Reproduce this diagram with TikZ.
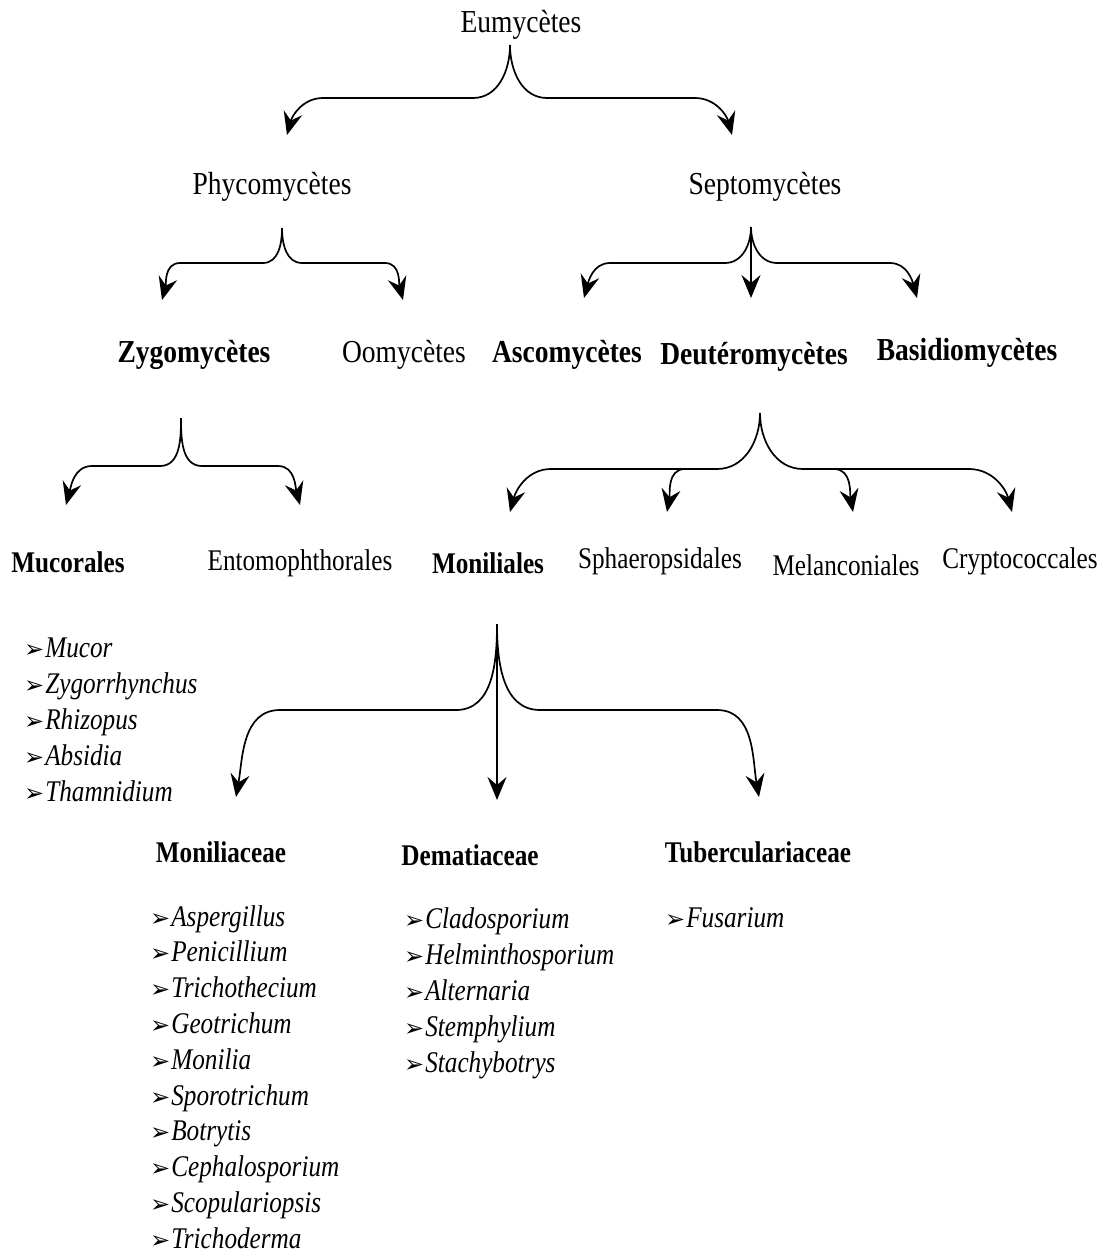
\documentclass[tikz,border=0pt]{standalone}
\usepackage{fontspec}
\setmainfont{Liberation Serif}
\newfontfamily\topfont[FakeStretch=0.86]{Liberation Serif}
\newfontfamily\lowfont[FakeStretch=0.84]{Liberation Serif}
\newfontfamily\symfont{DejaVu Sans}
\usetikzlibrary{arrows.meta}
\newcommand{\arrbul}{{\symfont\fontsize{24}{24}\selectfont ➢}\hspace{1pt}}

\begin{document}
\begin{tikzpicture}[x=1pt,y=-1pt,
  top/.style={inner sep=0pt,font=\topfont\fontsize{32}{36}\selectfont},
  low/.style={inner sep=0pt,font=\lowfont\fontsize{30}{34}\selectfont},
  genus/.style={inner sep=0pt,anchor=base west,font=\lowfont\fontsize{30}{34}\selectfont\itshape},
  brace/.style={line width=1.7pt,-{Stealth[length=23pt,width=19pt,inset=8pt]}}]
\useasboundingbox (0,0) rectangle (1106,1254);
% taxa
\node[top] (eumy) at (521,25) {Eumycètes};
\node[top] (phyco) at (272,187) {Phycomycètes};
\node[top] (septo) at (765,187) {Septomycètes};
\node[top,font=\topfont\fontsize{32}{36}\selectfont\bfseries] (zygo) at (194,355) {Zygomycètes};
\node[top] (oomy) at (404,355) {Oomycètes};
\node[top,font=\topfont\fontsize{32}{36}\selectfont\bfseries] (asco) at (567,355) {Ascomycètes};
\node[top,font=\topfont\fontsize{32}{36}\selectfont\bfseries] (deut) at (754,357) {Deutéromycètes};
\node[top,font=\topfont\fontsize{32}{36}\selectfont\bfseries] (basid) at (967,353) {Basidiomycètes};
\node[low,font=\lowfont\fontsize{30}{34}\selectfont\bfseries] (mucor) at (68,562) {Mucorales};
\node[low] (ento) at (300,563) {Entomophthorales};
\node[low,font=\lowfont\fontsize{30}{34}\selectfont\bfseries] (monil) at (488,563) {Moniliales};
\node[low] (sphae) at (660,561) {Sphaeropsidales};
\node[low] (melan) at (846,565) {Melanconiales};
\node[low] (crypto) at (1020,561) {Cryptococcales};
\node[low,font=\lowfont\fontsize{30}{34}\selectfont\bfseries] (moniliac) at (221,852) {Moniliaceae};
\node[low,font=\lowfont\fontsize{30}{34}\selectfont\bfseries] (demat) at (470,855) {Dematiaceae};
\node[low,font=\lowfont\fontsize{30}{34}\selectfont\bfseries] (tuber) at (758,852) {Tuberculariaceae};
% genera
\foreach \g [count=\i from 0] in {Mucor,Zygorrhynchus,Rhizopus,Absidia,Thamnidium}
  \node[genus] (mucor-\i) at (24,657+36*\i) {\arrbul\g};
\foreach \g [count=\i from 0] in {Aspergillus,Penicillium,Trichothecium,Geotrichum,Monilia,Sporotrichum,Botrytis,Cephalosporium,Scopulariopsis,Trichoderma}
  \node[genus] (moniliac-\i) at (150,926+35.8*\i) {\arrbul\g};
\foreach \g [count=\i from 0] in {Cladosporium,Helminthosporium,Alternaria,Stemphylium,Stachybotrys}
  \node[genus] (demat-\i) at (404,928+36*\i) {\arrbul\g};
\node[genus] (tuber-0) at (665,927) {\arrbul Fusarium};
% stems and tips
\coordinate (eumy-s) at (510,45); \coordinate (phyco-t) at (287,135); \coordinate (septo-t) at (732,135);
\coordinate (phyco-s) at (282,228); \coordinate (zygo-t) at (162,300); \coordinate (oomy-t) at (403,300);
\coordinate (septo-s) at (751,227); \coordinate (asco-t) at (584,298); \coordinate (deut-t) at (751,298); \coordinate (basid-t) at (917,298);
\coordinate (zygo-s) at (181,418); \coordinate (mucor-t) at (66,505); \coordinate (ento-t) at (300,505);
\coordinate (deut-s) at (760,413); \coordinate (monil-t) at (510,512); \coordinate (sphae-t) at (667,512);
\coordinate (melan-t) at (853,512); \coordinate (crypto-t) at (1012,512);
\coordinate (monil-s) at (497,624); \coordinate (moniliac-t) at (236,797); \coordinate (demat-t) at (497,800); \coordinate (tuber-t) at (759,797);
% braces
\draw[brace] (eumy-s) to[out=-90,in=0] (473,98) -- (323,98) to[out=180,in=75] (phyco-t);
\draw[brace] (eumy-s) to[out=-90,in=180] (547,98) -- (695,98) to[out=0,in=105] (septo-t);
\draw[brace] (phyco-s) to[out=-90,in=0] (263,263) -- (180,263) to[out=180,in=75] (zygo-t);
\draw[brace] (phyco-s) to[out=-90,in=180] (302,263) -- (385,263) to[out=0,in=105] (oomy-t);
\draw[brace] (septo-s) to[out=-90,in=0] (725,263) -- (610,263) to[out=180,in=75] (asco-t);
\draw[brace] (septo-s) -- (deut-t);
\draw[brace] (septo-s) to[out=-90,in=180] (777,263) -- (890,263) to[out=0,in=105] (basid-t);
\draw[brace] (zygo-s) to[out=-90,in=0] (160,466) -- (92,466) to[out=180,in=75] (mucor-t);
\draw[brace] (zygo-s) to[out=-90,in=180] (202,466) -- (278,466) to[out=0,in=105] (ento-t);
\draw[brace] (deut-s) to[out=-90,in=0] (717,469) -- (551,469) to[out=180,in=75] (monil-t);
\draw[brace] (685,469) to[out=180,in=80] (sphae-t);
\draw[brace] (deut-s) to[out=-90,in=180] (803,469) -- (969,469) to[out=0,in=105] (crypto-t);
\draw[brace] (834,469) to[out=0,in=100] (melan-t);
\draw[brace] (monil-s) to[out=-90,in=0] (456,710) -- (280,710) to[out=180,in=80] (moniliac-t);
\draw[brace] (monil-s) -- (demat-t);
\draw[brace] (monil-s) to[out=-90,in=180] (540,710) -- (717,710) to[out=0,in=100] (tuber-t);
\end{tikzpicture}
\end{document}
